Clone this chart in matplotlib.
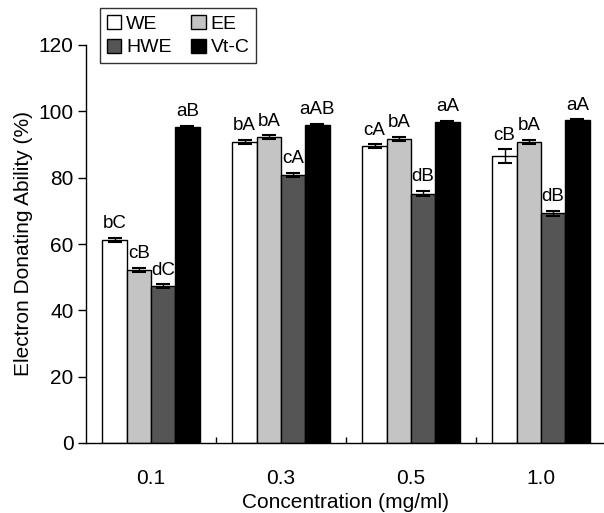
import matplotlib
matplotlib.use("Agg")
import matplotlib.pyplot as plt
import numpy as np

plt.rcParams['font.family'] = ['Liberation Sans', 'DejaVu Sans']

concentrations = ["0.1", "0.3", "0.5", "1.0"]
series_names = ["WE", "EE", "HWE", "Vt-C"]
we = [61.3, 90.8, 89.5, 86.5]
ee = [52.3, 92.2, 91.8, 90.8]
hwe = [47.2, 80.8, 75.2, 69.2]
vtc = [95.3, 96.0, 96.8, 97.3]
we_err = [0.6, 0.6, 0.6, 2.0]
ee_err = [0.6, 0.6, 0.6, 0.6]
hwe_err = [0.6, 0.6, 0.8, 0.8]
vtc_err = [0.3, 0.3, 0.3, 0.3]
we_lab = ["bC", "bA", "cA", "cB"]
ee_lab = ["cB", "bA", "bA", "bA"]
hwe_lab = ["dC", "cA", "dB", "dB"]
vtc_lab = ["aB", "aAB", "aA", "aA"]

values = [we, ee, hwe, vtc]
errors = [we_err, ee_err, hwe_err, vtc_err]
labels = [we_lab, ee_lab, hwe_lab, vtc_lab]
colors = ["white", "#c4c4c4", "#555555", "black"]

fig = plt.figure(figsize=(6.04, 5.13), dpi=100)
ax = fig.add_axes([86/604, 70/513, (606-86)/604, (443-45)/513])

x = np.arange(len(concentrations))
bw = 0.187
offsets = (np.arange(4) - 1.5) * bw
handles = []
for i in range(4):
    b = ax.bar(x + offsets[i], values[i], width=bw, color=colors[i],
               edgecolor="black", linewidth=1.0, label=series_names[i], zorder=2)
    handles.append(b)
    ax.errorbar(x + offsets[i], values[i], yerr=errors[i], fmt="none",
                ecolor="black", elinewidth=1.0, capsize=5, capthick=1.5, zorder=3)
    for j in range(len(x)):
        ax.annotate(labels[i][j], (x[j] + offsets[i], values[i][j] + errors[i][j]),
                    xytext=(0, 4), textcoords="offset points", ha="center",
                    va="bottom", fontsize=13.5)

ax.set_xlim(-0.5, 3.5)
ax.set_ylim(0, 120)
ax.set_yticks(np.arange(0, 121, 20))
ax.set_xticks(x)
ax.set_xticklabels(concentrations)
ax.set_xticks([0.5, 1.5, 2.5], minor=True)
ax.tick_params(axis="x", which="major", length=0, pad=19, labelsize=15)
ax.tick_params(axis="x", which="minor", direction="in", length=4, width=1)
ax.tick_params(axis="y", which="major", direction="out", length=6, width=1, labelsize=15, pad=3)
ax.spines["top"].set_visible(False)
ax.spines["right"].set_visible(False)
ax.spines["left"].set_linewidth(1.0)
ax.spines["bottom"].set_linewidth(1.0)
ax.set_xlabel("Concentration (mg/ml)", fontsize=15, labelpad=3)
ax.set_ylabel("Electron Donating Ability (%)", fontsize=15, labelpad=4)

order = [0, 2, 1, 3]
leg = fig.legend(handles=[handles[k] for k in order],
                 labels=[series_names[k] for k in order], ncol=2,
                 loc="upper left", bbox_to_anchor=(100/604, 1 - 8/513),
                 fontsize=14, frameon=True, fancybox=False, edgecolor="black",
                 handlelength=0.75, handleheight=0.75, handletextpad=0.25,
                 columnspacing=1.0, borderpad=0.35, labelspacing=0.3,
                 borderaxespad=0)
leg.get_frame().set_linewidth(1.0)

fig.savefig("out.png", dpi=100)
